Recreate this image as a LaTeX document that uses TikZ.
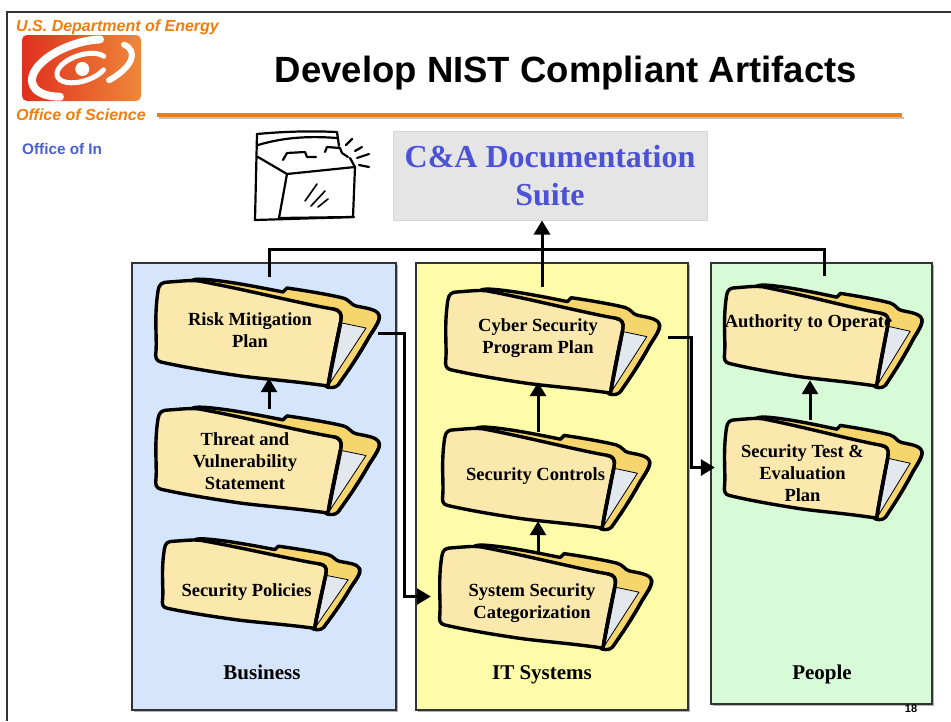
\documentclass[tikz,border=0pt]{standalone}
\usepackage{fontspec}
\setmainfont{Liberation Serif}
\setsansfont{Liberation Sans}
\usetikzlibrary{arrows.meta,calc}

\definecolor{doeorange}{HTML}{F27D0C}
\definecolor{logored}{HTML}{E0301E}
\definecolor{logoorange}{HTML}{EE8838}
\definecolor{officeblue}{HTML}{4A5FD2}
\definecolor{bizblue}{HTML}{D5E5FC}
\definecolor{ityellow}{HTML}{FDFCA8}
\definecolor{pplgreen}{HTML}{D6FBD6}
\definecolor{frontpan}{HTML}{FBE8AD}
\definecolor{backpan}{HTML}{F5D56C}
\definecolor{sheet}{HTML}{E3E7EE}
\definecolor{suitegray}{HTML}{E5E5E5}
\definecolor{suiteedge}{HTML}{D4D4D4}
\definecolor{suiteblue}{HTML}{4B52D6}
\definecolor{framegray}{HTML}{333333}

% local frame of a folder: 232 x 111 box, y pointing down
\tikzset{folderframe/.style n args={4}{shift={(#1,#2)}, xscale=#3/232, yscale=#4/111,
    shift={(-116,-55.5)}, line join=round, line cap=round}}

% Tilted manila folder
\newcommand\folderart[4]{%
  \begin{scope}[folderframe={#1}{#2}{#3}{#4}]
    % back cover with tab
    \filldraw[fill=backpan, draw=black, line width=3.4pt]
      (40,3) .. controls (45,1) and (60,3) .. (75,5)
      .. controls (95,8) and (115,12) .. (130,15)
      -- (134,11)
      .. controls (155,14) and (178,18) .. (190,21)
      .. controls (197,23) and (198,28) .. (203,29)
      .. controls (212,31) and (224,32) .. (226,38)
      .. controls (228,43) and (221,52) .. (216,60)
      .. controls (205,80) and (192,98) .. (185,108)
      .. controls (182,111) and (178,111) .. (174,110) -- cycle;
    % sheet of paper inside
    \filldraw[fill=sheet, draw=black, line width=0.8pt]
      (189,46) -- (213,51) -- (177,106) -- cycle;
    % front cover
    \filldraw[fill=frontpan, draw=black, line width=3.4pt]
      (5,14) .. controls (6,7) and (9,5) .. (16,5)
      .. controls (30,4) and (38,3) .. (46,4)
      .. controls (90,12) and (150,27) .. (180,32)
      .. controls (187,33) and (189,37) .. (188,43)
      .. controls (184,62) and (178,90) .. (175,109)
      .. controls (140,104) and (110,102) .. (88,99)
      .. controls (60,95) and (30,90) .. (8,85)
      .. controls (3,84) and (2,80) .. (3,74)
      .. controls (4,60) and (1,40) .. (5,14) -- cycle;
  \end{scope}}

% right rim of a folder, laid over any caption that runs past the front cover
\newcommand\folderrim[4]{%
  \begin{scope}[folderframe={#1}{#2}{#3}{#4}]
    \fill[backpan] (190,41) -- (222,40) -- (188,106) -- (178,108) -- cycle;
    \filldraw[fill=sheet, draw=black, line width=0.8pt]
      (189,46) -- (213,51) -- (177,106) -- cycle;
    \draw[black, line width=3.4pt]
      (180,32) .. controls (187,33) and (189,37) .. (188,43)
      .. controls (184,62) and (178,90) .. (175,109);
    \draw[black, line width=3.4pt]
      (226,38) .. controls (228,43) and (221,52) .. (216,60)
      .. controls (205,80) and (192,98) .. (185,108);
  \end{scope}}

% folder: name, centre x, centre y, width, height, text dx, text dy, text
\newcommand\folder[8]{%
  \folderart{#2}{#3}{#4}{#5}
  \node[fbox, minimum width=#4pt, minimum height=#5pt] (#1) at (#2,#3) {};
  \node[ftext] (#1-text) at ($(#2,#3)+(#6,#7)$) {#8};
  \folderrim{#2}{#3}{#4}{#5}}

\begin{document}
\begin{tikzpicture}[x=1pt, y=-1pt,
    hdr/.style={font=\sffamily\bfseries\itshape\fontsize{16}{16}\selectfont, text=doeorange, inner sep=0pt},
    panel/.style={draw=framegray, line width=1.3pt},
    shadowbox/.style={fill=black!30, draw=none},
    plabel/.style={font=\bfseries\fontsize{21}{21}\selectfont, inner sep=0pt, anchor=base},
    fbox/.style={draw=none, inner sep=0pt},
    ftext/.style={font=\bfseries\fontsize{18.5}{22}\selectfont, align=center, inner sep=0pt},
    conn/.style={draw=black, line width=3pt},
    arr/.style={conn, -{Triangle[length=14pt, width=16pt]}},
    icon/.style={draw=black, line width=2.2pt, line cap=round, line join=round}]

\useasboundingbox (0,0) rectangle (951,721);
\fill[white] (0,0) rectangle (951,721);

% slide frame
\draw[framegray, line width=1.6pt] (7,721) -- (7,12) -- (951,12);

% header: department logo and rule
\node[hdr, anchor=base west] (dept) at (16,31) {U.S. Department of Energy};
\shade[left color=logored, right color=logoorange, rounded corners=5pt] (22,35) rectangle (141,101);
\begin{scope}
  \clip[rounded corners=5pt] (22,35) rectangle (141,101);
  \begin{scope}[shift={(82,68)}, rotate=18, white, line cap=round]
    \draw[line width=8pt] (26,-21.6) arc[start angle=300, end angle=125, x radius=52, y radius=25];
    \draw[line width=6pt] (22,20) arc[start angle=65, end angle=-25, x radius=52, y radius=22];
    \draw[line width=5pt] (24.4,-4.4) arc[start angle=-20, end angle=-320, x radius=26, y radius=13];
    \fill (0,1) circle[radius=7];
  \end{scope}
\end{scope}
\node[hdr, anchor=base west] (office) at (16,120) {Office of Science};
\draw[black!25, line width=2pt] (159,117.5) -- (904,117.5);
\draw[doeorange, line width=3.6pt] (157,115) -- (902,115);
\node[font=\sffamily\bfseries\fontsize{15.3}{15.3}\selectfont, text=officeblue, inner sep=0pt, anchor=base west]
  (officeof) at (22,154) {Office of In};

% title
\node[font=\sffamily\bfseries\fontsize{36.5}{36.5}\selectfont, inner sep=0pt, anchor=base]
  (title) at (566,82) {Develop NIST Compliant Artifacts};

% file box clip art
\begin{scope}[icon]
  \draw (257,134) .. controls (290,131) and (315,131) .. (337,132) -- (339,146);
  \draw (258,145) .. controls (285,137) and (310,136) .. (337,138);
  \draw (257,134) -- (255,220) -- (354,217);
  \draw (258,157) -- (287,174);
  \draw (283,160) -- (287,153) -- (305,152) -- (307,157) -- (316,157);
  \draw (325,152) -- (327,147) -- (340,148) -- (342,153) -- (348,157);
  \draw (350,158) -- (355,167);
  \filldraw[fill=white] (287,174) -- (355,167) -- (353,217) -- (279,218) -- cycle;
  \draw (346,145) -- (352,139);
  \draw (355,151) -- (362,147);
  \draw (357,158) -- (369,154);
  \draw (359,165) -- (369,167);
  \draw[line width=1.6pt] (305,201) -- (317,184);
  \draw[line width=1.6pt] (311,206) -- (325,191);
  \draw[line width=1.6pt] (318,207) -- (328,199);
\end{scope}

% documentation suite
\node[fill=suitegray, draw=suiteedge, line width=1pt, minimum width=314pt, minimum height=89pt,
      text=suiteblue, font=\bfseries\fontsize{32}{38}\selectfont, align=center, inner sep=0pt]
  (suite) at (550,175.5) {C\&A Documentation\\Suite};

% swim lanes
\fill[shadowbox] (134,265) rectangle (398,712);
\fill[shadowbox] (418,265) rectangle (690,712);
\fill[shadowbox] (713,265) rectangle (934,706);
\node[panel, fill=bizblue, minimum width=264pt, minimum height=447pt, inner sep=0pt] (business) at (264,486.5) {};
\node[panel, fill=ityellow, minimum width=272pt, minimum height=447pt, inner sep=0pt] (itsys) at (552,486.5) {};
\node[panel, fill=pplgreen, minimum width=221pt, minimum height=441pt, inner sep=0pt] (people) at (821.5,483.5) {};
\node[plabel] (bizlabel) at (262,679) {Business};
\node[plabel] (itlabel) at (542,679) {IT Systems};
\node[plabel] (ppllabel) at (822,679) {People};

% folders
\folder{risk}{269}{332.5}{232}{111}{-19}{-2}{Risk Mitigation\\Plan}
\folder{threat}{269}{460}{232}{110}{-24}{1.5}{Threat and\\Vulnerability\\Statement}
\folder{policies}{262.5}{583.5}{205}{93}{-16}{8.5}{Security Policies}
\folder{cyber}{554}{341}{222}{108}{-16}{-3}{Cyber Security\\Program Plan}
\folder{controls}{547.5}{477.5}{215}{105}{-12}{-1.5}{Security Controls}
\folder{categ}{547}{596.5}{220}{107}{-15}{7}{System Security\\Categorization}
\folder{ato}{824.5}{335.5}{205}{105}{-16}{-12.5}{Authority to Operate}
\folder{test}{824.5}{467.5}{205}{105}{-22}{5.5}{Security Test \&\\Evaluation\\Plan}

% connectors
\draw[conn] (risk.north) -- ++(0,-27) -| ([yshift=7pt]ato.north);
\draw[arr] ([xshift=-12pt]cyber.north) -- ([xshift=-12pt]cyber.north |- suite.south);
\draw[arr] ([yshift=-4pt]threat.north) -- ([yshift=10pt]risk.south);
\draw[arr] ([xshift=-9.5pt,yshift=-7pt]controls.north) -- ([xshift=-16pt,yshift=13pt]cyber.south);
\draw[arr] ([xshift=-9pt,yshift=-10pt]categ.north) -- ([xshift=-9.5pt,yshift=9pt]controls.south);
\draw[arr] ([xshift=-14.5pt,yshift=-5pt]test.north) -- ([xshift=-14.5pt,yshift=8pt]ato.south);
\draw[arr] ([xshift=-7pt,yshift=-0.5pt]risk.east) -- ++(26,0) |- ([xshift=-6pt]categ.west);
\draw[arr] ([xshift=3pt,yshift=4pt]cyber.east) -- ++(23,0) |- ([xshift=-7pt]test.west);

% page number
\node[font=\sffamily\bfseries\fontsize{11}{11}\selectfont, inner sep=0pt] (pagenum) at (911,709) {18};
\end{tikzpicture}
\end{document}
